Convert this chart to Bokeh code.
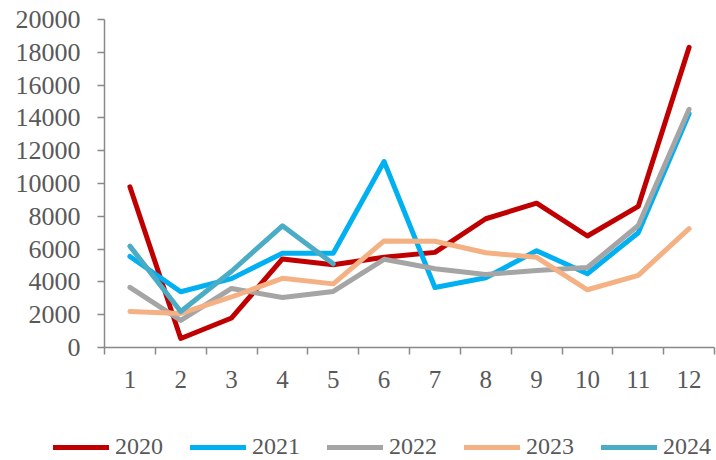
from bokeh.plotting import figure
from bokeh.models import Range1d, FixedTicker, Legend, LegendItem
from bokeh.embed import file_html
from bokeh.resources import INLINE

months = [1, 2, 3, 4, 5, 6, 7, 8, 9, 10, 11, 12]
y2020 = [9800, 550, 1800, 5400, 5050, 5500, 5800, 7850, 8800, 6800, 8600, 18300]
y2021 = [5550, 3400, 4200, 5750, 5750, 11340, 3660, 4250, 5900, 4500, 7000, 14250]
y2022 = [3670, 1650, 3600, 3050, 3420, 5380, 4800, 4450, 4700, 4880, 7440, 14520]
y2023 = [2200, 2080, 3080, 4220, 3880, 6500, 6480, 5780, 5500, 3520, 4400, 7250]
y2024 = [6180, 2200, 4650, 7420, 5100]
labels = ["2020", "2021", "2022", "2023", "2024"]
colors = ["#C00000", "#00B0F0", "#A5A5A5", "#F4B183", "#4BACC6"]
series = [y2020, y2021, y2022, y2023, y2024]
y_ticks = list(range(0, 20001, 2000))

FONT = "Liberation Serif"
TXT = "#595959"
AX = "#898989"

W, H = 716, 460
# plot area in pixels: x from 104 to 714, y (top-down) from 19 to 347
L, R, T, B = 104, 714, 19, 347
x0, x1 = 0.5, 12.5
y0, y1 = 0, 20000
sx = (x1 - x0) / (R - L)
sy = (y1 - y0) / (B - T)
xr = Range1d(x0 - L * sx, x1 + (W - R) * sx)
yr = Range1d(y0 - (H - B) * sy, y1 + T * sy)

p = figure(width=W, height=H, output_backend="svg", toolbar_location=None,
           x_range=xr, y_range=yr,
           min_border_left=0, min_border_right=0, min_border_top=0, min_border_bottom=0)
p.outline_line_color = None
p.xgrid.visible = False
p.ygrid.visible = False

items = []
for lab, col, ys in zip(labels, colors, series):
    r = p.line(months[:len(ys)], ys, line_color=col, line_width=5,
               line_cap="round", line_join="round")
    items.append(LegendItem(label=lab, renderers=[r]))

xa = p.xaxis[0]
xa.fixed_location = y0
xa.bounds = (x0, x1)
xa.ticker = FixedTicker(ticks=months, minor_ticks=[m - 0.5 for m in months] + [12.5])
xa.major_tick_line_color = None
xa.minor_tick_line_color = AX
xa.minor_tick_line_width = 1.5
xa.minor_tick_out = 7
xa.minor_tick_in = 0
xa.axis_line_color = AX
xa.axis_line_width = 1.5
xa.major_label_text_font = FONT
xa.major_label_text_font_size = "25px"
xa.major_label_text_color = TXT
xa.major_label_standoff = 16

ya = p.yaxis[0]
ya.fixed_location = x0
ya.bounds = (y0, y1)
ya.ticker = FixedTicker(ticks=y_ticks)
ya.minor_tick_line_color = None
ya.major_tick_line_color = AX
ya.major_tick_line_width = 1.5
ya.major_tick_out = 7
ya.major_tick_in = 0
ya.axis_line_color = AX
ya.axis_line_width = 1.5
ya.major_label_text_font = FONT
ya.major_label_text_font_size = "26px"
ya.major_label_text_color = TXT
ya.major_label_standoff = 17

legend = Legend(items=items, orientation="horizontal", location=(53, 0),
                label_text_font=FONT, label_text_font_size="24px",
                label_text_color=TXT, glyph_width=56, glyph_height=16,
                label_height=16, label_standoff=6, spacing=27,
                padding=0, margin=0, border_line_color=None,
                background_fill_alpha=0)
p.add_layout(legend, "center")

open("out.html", "w").write(file_html(p, INLINE))
